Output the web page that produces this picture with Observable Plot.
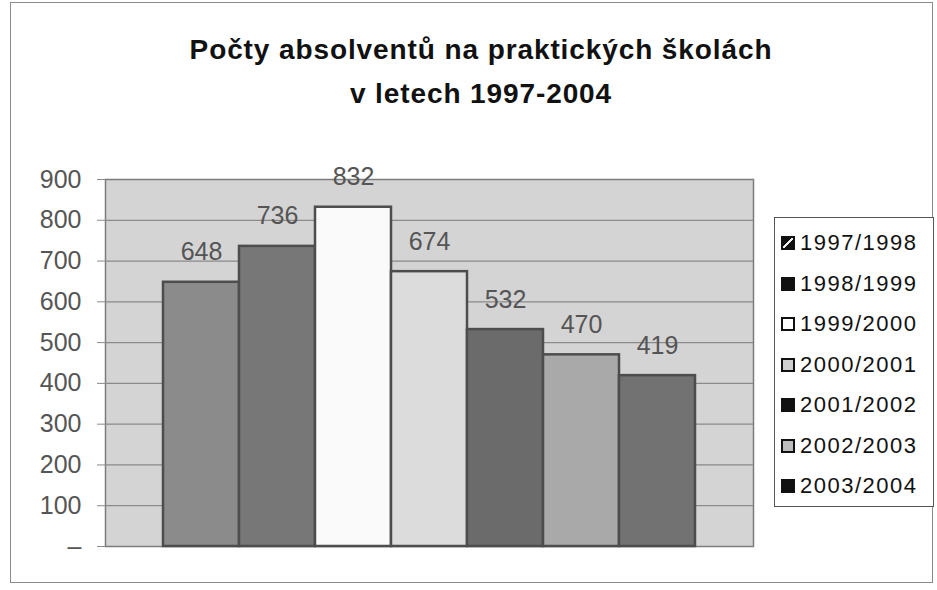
<!DOCTYPE html>
<html>
<head>
<meta charset="utf-8">
<script src="https://cdn.jsdelivr.net/npm/d3@7"></script>
<script src="https://cdn.jsdelivr.net/npm/@observablehq/plot@0.6"></script>
<style>
  html, body { margin: 0; padding: 0; background: #ffffff; }
  #wrap { position: relative; width: 937px; height: 590px; overflow: hidden; font-family: "Liberation Sans", Arial, sans-serif; }
  #border { position: absolute; left: 10px; top: 2px; width: 921px; height: 579px; border: 1px solid #8a8a8a; }
  #title { position: absolute; left: 25px; top: 28px; width: 912px; text-align: center; font-weight: bold; font-size: 28px; letter-spacing: 0.9px; line-height: 44px; color: #111; }
  #chart { position: absolute; left: 0; top: 0; }
  #legend { position: absolute; left: 774px; top: 217px; width: 158px; height: 288px; border: 1px solid #555; background: #fff; }
  .item { position: absolute; left: 6px; height: 30px; display: flex; align-items: center; font-size: 22px; letter-spacing: 1.5px; color: #111; }
  .sw { width: 14px; height: 14px; margin-right: 5px; box-sizing: border-box; }
</style>
</head>
<body>
<div id="wrap">
  <div id="border"></div>
  <div id="title"></div>
  <div id="chart"></div>
  <div id="legend"></div>
</div>
<script>
// ---- data ----
const titleLines = ["Počty absolventů na praktických školách", "v letech 1997-2004"];
const years = ["1997/1998", "1998/1999", "1999/2000", "2000/2001", "2001/2002", "2002/2003", "2003/2004"];
const values = [648, 736, 832, 674, 532, 470, 419];
const yTicks = [0, 100, 200, 300, 400, 500, 600, 700, 800, 900];
const barColors = ["#8b8b8b", "#777777", "#fafafa", "#dcdcdc", "#6b6b6b", "#a9a9a9", "#727272"];
const legendSwatchFill = ["#111111", "#111111", "#ffffff", "#cfcfcf", "#111111", "#bdbdbd", "#111111"];

const data = years.map((y, i) => ({year: y, value: values[i]}));

document.getElementById("title").innerHTML = titleLines.join("<br>");

const chart = Plot.plot({
  width: 937,
  height: 590,
  marginTop: 179,
  marginBottom: 44,
  marginLeft: 105,
  marginRight: 184,
  style: {background: "transparent", fontFamily: "'Liberation Sans', Arial, sans-serif"},
  x: {type: "band", domain: years, paddingInner: 0, paddingOuter: 0.75, axis: null},
  y: {domain: [0, 900], axis: null, label: null},
  color: {domain: years, range: barColors},
  marks: [
    Plot.frame({fill: "#d4d4d4", stroke: "#7c7c7c", strokeWidth: 1.5}),
    Plot.gridY(yTicks.filter(t => t > 0 && t < 900), {stroke: "#8a8a8a", strokeOpacity: 1, strokeWidth: 1.2}),
    Plot.barY(data, {x: "year", y: "value", fill: "year", stroke: "#4d4d4d", strokeWidth: 2.5}),
    Plot.text(data, {x: "year", y: "value", text: d => String(d.value), dy: -30, fontSize: 25, fill: "#555555"}),
    Plot.axisY({ticks: yTicks, tickFormat: d => d === 0 ? "–" : String(d), tickSize: 8, tickPadding: 16, fontSize: 25, color: "#555555", stroke: "#8a8a8a", label: null})
  ]
});
document.getElementById("chart").appendChild(chart);

const legend = document.getElementById("legend");
years.forEach((y, i) => {
  const it = document.createElement("div");
  it.className = "item";
  it.style.top = (10 + i * 40.5) + "px";
  const sw = document.createElement("div");
  sw.className = "sw";
  sw.style.background = legendSwatchFill[i];
  sw.style.border = "2px solid #111";
  if (i === 0) sw.style.background = "linear-gradient(135deg, #111 45%, #eee 45%, #eee 60%, #111 60%)";
  it.appendChild(sw);
  const t = document.createElement("span");
  t.textContent = y;
  it.appendChild(t);
  legend.appendChild(it);
});
</script>
</body>
</html>
